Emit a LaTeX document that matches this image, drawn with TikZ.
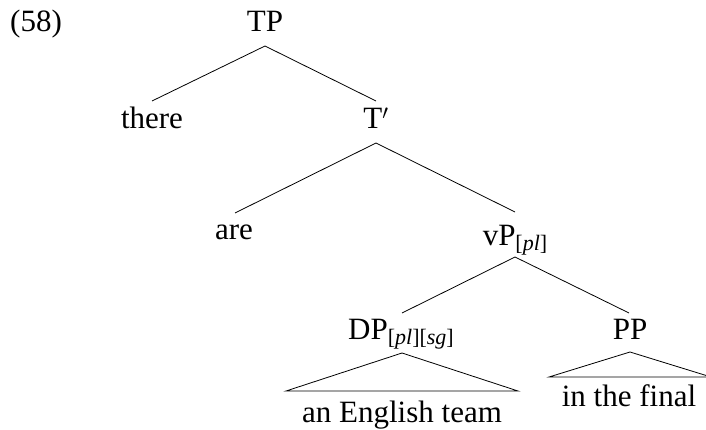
\documentclass[tikz,border=0pt]{standalone}
\usepackage{fontspec}
\setmainfont{Liberation Serif}
\newcommand{\featsub}[1]{\raisebox{-5pt}{\fontsize{22}{24}\selectfont #1}}
\begin{document}
\begin{tikzpicture}[x=1pt,y=-1pt,
  lbl/.style={inner sep=0pt,anchor=base,font=\fontsize{31}{37}\selectfont},
  edge/.style={draw=black,line width=0.8pt},
  tri/.style={draw=black,line width=0.8pt,line join=miter}]
\useasboundingbox (0,0) rectangle (706,430);
% labels
\node[lbl,anchor=base west] (ex) at (10,32) {(58)};
\node[lbl] (TP) at (265,32) {TP};
\node[lbl] (there) at (152,129) {there};
\node[lbl] (Tbar) at (376,129) {T$'$};
\node[lbl] (are) at (234,240) {are};
\node[lbl] (vP) at (515,246) {vP\featsub{[\textit{pl}]}};
\node[lbl] (DP) at (401,339) {DP\featsub{[\textit{pl}][\textit{sg}]}};
\node[lbl] (PP) at (630,339) {PP};
\node[lbl] (DPleaf) at (402,422) {an English team};
\node[lbl] (PPleaf) at (629,406) {in the final};
% attachment points
\coordinate (TP-s) at (265,46);
\coordinate (there-n) at (152,101);
\coordinate (Tbar-n) at (376,101);
\coordinate (Tbar-s) at (376,143);
\coordinate (are-n) at (235,213);
\coordinate (vP-n) at (515,212);
\coordinate (vP-s) at (515,257);
\coordinate (DP-n) at (402,313);
\coordinate (DP-s) at (402,353);
\coordinate (PP-n) at (629,313);
\coordinate (PP-s) at (630,352);
\coordinate (DPl-w) at (286,391);
\coordinate (DPl-e) at (518,391);
\coordinate (PPl-w) at (549,377);
\coordinate (PPl-e) at (711,377);
% edges
\draw[edge] (TP-s) -- (there-n);
\draw[edge] (TP-s) -- (Tbar-n);
\draw[edge] (Tbar-s) -- (are-n);
\draw[edge] (Tbar-s) -- (vP-n);
\draw[edge] (vP-s) -- (DP-n);
\draw[edge] (vP-s) -- (PP-n);
\draw[tri] (DP-s) -- (DPl-w) -- (DPl-e) -- cycle;
\draw[tri] (PP-s) -- (PPl-w) -- (PPl-e) -- cycle;
\end{tikzpicture}
\end{document}
